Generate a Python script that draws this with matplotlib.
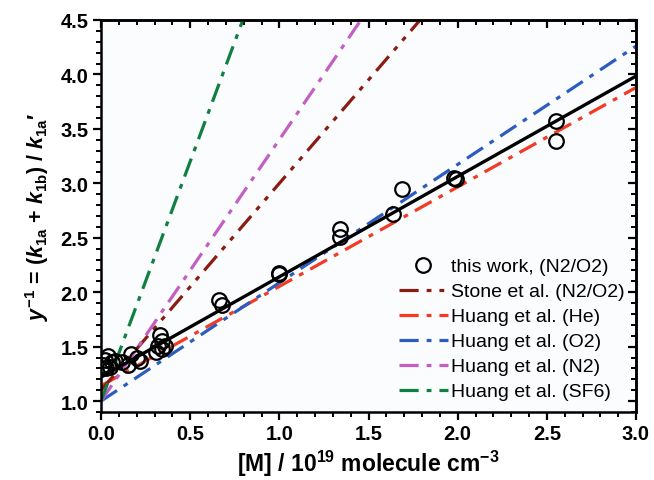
import matplotlib
matplotlib.use("Agg")
import matplotlib.pyplot as plt
import numpy as np
from matplotlib.ticker import MultipleLocator, FormatStrFormatter

plt.rcParams['font.family'] = ['Liberation Sans', 'DejaVu Sans']
plt.rcParams['mathtext.fontset'] = 'custom'
plt.rcParams['mathtext.rm'] = 'Liberation Sans:bold'
plt.rcParams['mathtext.it'] = 'Liberation Sans:bold:italic'
plt.rcParams['mathtext.bf'] = 'Liberation Sans:bold'

# Measured data (this work, N2/O2)
data_x = [0.01, 0.02, 0.03, 0.04, 0.05, 0.06, 0.08, 0.12, 0.15, 0.17, 0.20, 0.22,
          0.31, 0.32, 0.33, 0.34, 0.34, 0.36,
          0.66, 0.68, 1.00, 1.00, 1.34, 1.34, 1.64, 1.69, 1.98, 1.99, 2.55, 2.55]
data_y = [1.33, 1.38, 1.30, 1.41, 1.31, 1.36, 1.37, 1.36, 1.33, 1.43, 1.40, 1.37,
          1.45, 1.51, 1.61, 1.55, 1.48, 1.51,
          1.93, 1.88, 2.18, 2.17, 2.58, 2.51, 2.72, 2.95, 3.05, 3.04, 3.57, 3.39]

# Fit / literature lines: (x endpoints, y endpoints)
fit_x = [0.0, 3.0]
fit_y = [1.22, 3.985]
stone_x = [0.0, 1.80]
stone_y = [1.10, 4.52]
he_x = [0.0, 3.0]
he_y = [1.14, 3.88]
o2_x = [0.0, 3.0]
o2_y = [1.00, 4.26]
n2_x = [0.0, 1.47]
n2_y = [1.00, 4.53]
sf6_x = [0.0, 0.80]
sf6_y = [1.00, 4.52]

fig = plt.figure(figsize=(6.54, 4.81), dpi=100)
ax = fig.add_axes([101/654, 1-413/481, (636-101)/654, (413-21)/481])
ax.set_facecolor('#fbfcfe')

lw = 2.3
dd = (6, 2.5, 1.5, 2.5)
ax.plot(he_x, he_y, color='#f23a25', lw=lw, dashes=dd, label='Huang et al. (He)')
ax.plot(o2_x, o2_y, color='#2c5cc0', lw=lw, dashes=dd, label='Huang et al. (O2)')
ax.plot(stone_x, stone_y, color='#8a1c12', lw=lw, dashes=(6, 2.5, 1.5, 2.5, 1.5, 2.5),
        label='Stone et al. (N2/O2)')
ax.plot(n2_x, n2_y, color='#c35fc3', lw=lw, dashes=dd, label='Huang et al. (N2)')
ax.plot(sf6_x, sf6_y, color='#0f8040', lw=lw, dashes=dd, label='Huang et al. (SF6)')
ax.plot(fit_x, fit_y, color='black', lw=2.4, solid_capstyle='butt')
ax.plot(data_x, data_y, 'o', mfc='none', mec='black', ms=10.5, mew=1.6,
        label='this work, (N2/O2)')

ax.set_xlim(0, 3.0)
ax.set_ylim(0.9, 4.5)
ax.xaxis.set_major_locator(MultipleLocator(0.5))
ax.xaxis.set_minor_locator(MultipleLocator(0.1))
ax.set_yticks([1.0, 1.5, 2.0, 2.5, 3.0, 3.5, 4.0, 4.5])
ax.yaxis.set_minor_locator(MultipleLocator(0.1))

for s in ax.spines.values():
    s.set_linewidth(1.8)
ax.tick_params(axis='both', which='major', direction='out', length=6, width=1.6,
               labelsize=14.5, pad=3)
ax.tick_params(axis='both', which='minor', direction='out', length=3.5, width=1.4)
ax2 = ax.secondary_xaxis('top')
ax2.xaxis.set_major_locator(MultipleLocator(0.5))
ax2.xaxis.set_minor_locator(MultipleLocator(0.1))
ax2.tick_params(which='major', direction='in', length=6, width=1.6, labeltop=False)
ax2.tick_params(which='minor', direction='in', length=3.5, width=1.4)
ax2.spines['top'].set_linewidth(1.8)
ax3 = ax.secondary_yaxis('right')
ax3.yaxis.set_major_locator(MultipleLocator(0.5))
ax3.yaxis.set_minor_locator(MultipleLocator(0.1))
ax3.tick_params(which='major', direction='in', length=6, width=1.6, labelright=False)
ax3.tick_params(which='minor', direction='in', length=3.5, width=1.4)
ax3.spines['right'].set_linewidth(1.8)

ax.xaxis.set_major_formatter(FormatStrFormatter('%.1f'))
ax.yaxis.set_major_formatter(FormatStrFormatter('%.1f'))
for lab in ax.get_xticklabels() + ax.get_yticklabels():
    lab.set_fontweight('bold')

ax.set_xlabel(r'[M] / 10$^{19}$ molecule cm$^{-3}$', fontsize=16.5, fontweight='bold', labelpad=3)
ax.set_ylabel(r"$y^{-1}$ = ($k_{\mathrm{1a}}$ + $k_{\mathrm{1b}}$) / $k_{\mathrm{1a}}$′",
              fontsize=15.5, fontweight='bold', labelpad=7)

handles, labels = ax.get_legend_handles_labels()
order = ['this work, (N2/O2)', 'Stone et al. (N2/O2)', 'Huang et al. (He)',
         'Huang et al. (O2)', 'Huang et al. (N2)', 'Huang et al. (SF6)']
hmap = dict(zip(labels, handles))
leg = ax.legend([hmap[k] for k in order], order, loc='lower right',
                bbox_to_anchor=(1.0, 0.0), frameon=False, fontsize=14,
                handlelength=2.5, labelspacing=0.38, handletextpad=0.15,
                borderaxespad=0.2)

fig.savefig('out.png', dpi=100)
